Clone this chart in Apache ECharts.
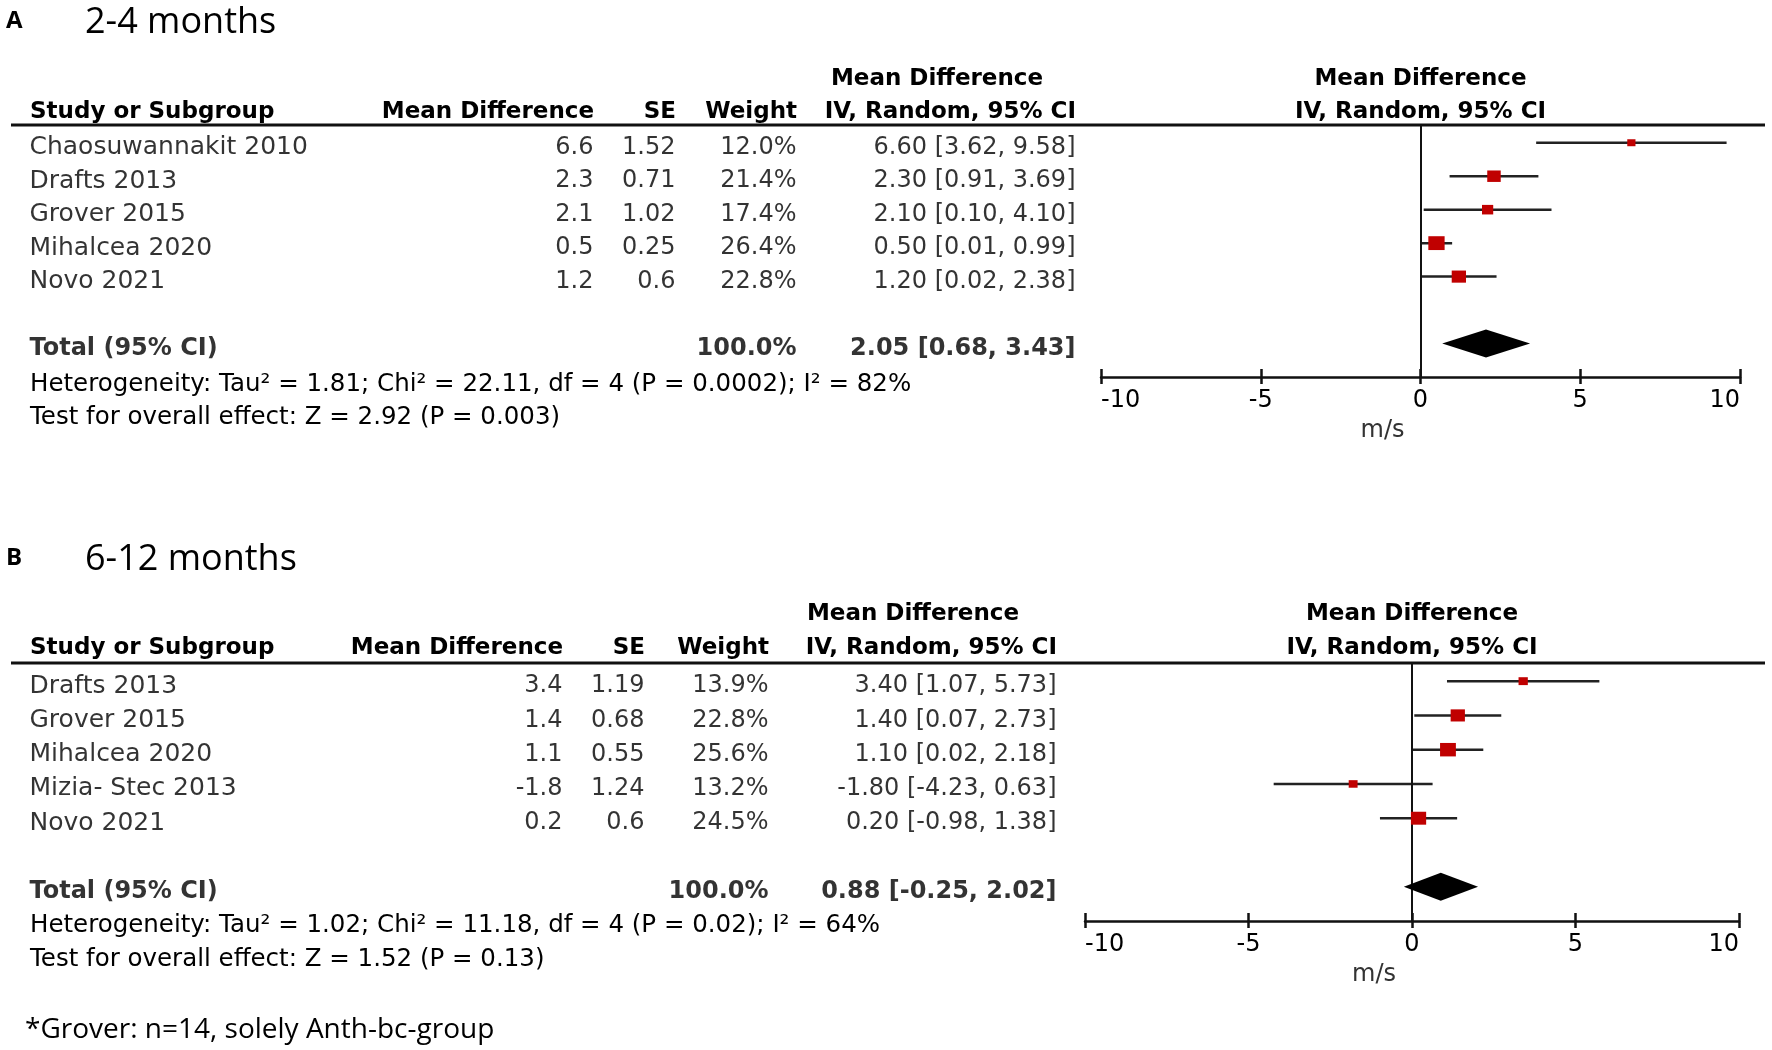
<!DOCTYPE html>
<html>
<head>
  <meta charset="utf-8">
  <title>Forest plot - mean difference</title>
  <script src="https://cdn.jsdelivr.net/npm/echarts@6/dist/echarts.min.js"></script>
</head>
<body style="margin:0;background:#fff">
  <div id="main" style="width:1772px;height:1050px;"></div>
  <script type="text/javascript">
    // A: 2-4 months
    var studiesA = ['Chaosuwannakit 2010', 'Drafts 2013', 'Grover 2015', 'Mihalcea 2020', 'Novo 2021'];
    var mdA = [6.6, 2.3, 2.1, 0.5, 1.2];
    var seA = [1.52, 0.71, 1.02, 0.25, 0.6];
    var weightA = [12.0, 21.4, 17.4, 26.4, 22.8];
    var lowA = [3.62, 0.91, 0.10, 0.01, 0.02];
    var highA = [9.58, 3.69, 4.10, 0.99, 2.38];
    var totalA = [2.05, 0.68, 3.43];   // estimate, low, high
    var hetA = 'Heterogeneity: Tau² = 1.81; Chi² = 22.11, df = 4 (P = 0.0002); I² = 82%';
    var testA = 'Test for overall effect: Z = 2.92 (P = 0.003)';

    // B: 6-12 months
    var studiesB = ['Drafts 2013', 'Grover 2015', 'Mihalcea 2020', 'Mizia- Stec 2013', 'Novo 2021'];
    var mdB = [3.4, 1.4, 1.1, -1.8, 0.2];
    var seB = [1.19, 0.68, 0.55, 1.24, 0.6];
    var weightB = [13.9, 22.8, 25.6, 13.2, 24.5];
    var lowB = [1.07, 0.07, 0.02, -4.23, -0.98];
    var highB = [5.73, 2.73, 2.18, 0.63, 1.38];
    var totalB = [0.88, -0.25, 2.02];
    var hetB = 'Heterogeneity: Tau² = 1.02; Chi² = 11.18, df = 4 (P = 0.02); I² = 64%';
    var testB = 'Test for overall effect: Z = 1.52 (P = 0.13)';

    var xTicks = [-10, -5, 0, 5, 10];
    var footnote = '*Grover: n=14, solely Anth-bc-group';

    var myChart = echarts.init(document.getElementById('main'));

    var FONT = '"DejaVu Sans"';
    var TITLE_FONT = '"Open Sans"';

    // layout of the two panels (pixels)
    var panels = [
      {letter: 'A', title: '2-4 months', studies: studiesA, md: mdA, se: seA, w: weightA, lo: lowA, hi: highA, total: totalA, het: hetA, test: testA,
       titleY: 23, head1: 79, head2: 112, rule: 125, axisY: 377, left: 1101, right: 1740,
       colMD: 594, colSE: 676, colW: 797, colCI: 1076, ciHead1: 937, hetY: 385, testY: 418},
      {letter: 'B', title: '6-12 months', studies: studiesB, md: mdB, se: seB, w: weightB, lo: lowB, hi: highB, total: totalB, het: hetB, test: testB,
       titleY: 560, head1: 614, head2: 648, rule: 663, axisY: 921, left: 1085, right: 1739,
       colMD: 563, colSE: 645, colW: 769, colCI: 1057, ciHead1: 913, hetY: 926, testY: 960}
    ];

    function txt(x, y, s, size, weight, align, family) {
      return {
        type: 'text', silent: true,
        style: {
          text: s, x: x, y: y, fill: '#000',
          fontSize: size, fontWeight: weight || 'normal', fontFamily: family || FONT,
          align: align || 'left', verticalAlign: 'middle'
        }
      };
    }

    var grids = [], xAxes = [], yAxes = [], series = [], graphics = [];

    panels.forEach(function (p, k) {
      var nameW = p.colMD - 30;
      grids.push({left: p.left, right: 1772 - p.right, top: p.rule, bottom: 1050 - p.axisY});

      // main axis (ticks below, labels)
      xAxes.push({
        gridIndex: k, type: 'value', position: 'bottom',
        min: xTicks[0], max: xTicks[xTicks.length - 1], interval: xTicks[1] - xTicks[0],
        axisLine: {onZero: false, lineStyle: {color: '#111', width: 2.5}},
        axisTick: {length: 7, lineStyle: {color: '#111', width: 2.5}},
        axisLabel: {margin: 12, fontSize: 24, fontFamily: FONT, color: '#000',
                    alignMinLabel: 'left', alignMaxLabel: 'right'},
        splitLine: {show: false},
        name: 'm/s', nameLocation: 'middle', nameGap: 42,
        nameTextStyle: {fontSize: 24, fontFamily: FONT, color: '#333', padding: [0, 76, 0, 0]}
      });
      // second axis only for the upper half of the ticks
      xAxes.push({
        gridIndex: k, type: 'value', position: 'bottom',
        min: xTicks[0], max: xTicks[xTicks.length - 1], interval: xTicks[1] - xTicks[0],
        axisLine: {show: false, onZero: false},
        axisTick: {inside: true, length: 8, lineStyle: {color: '#111', width: 2.5}},
        axisLabel: {show: false}, splitLine: {show: false}
      });
      yAxes.push({gridIndex: k, type: 'value', inverse: true, min: -0.53, max: 7, show: false});

      var xi = k * 2, yi = k;
      var totalRow = p.studies.length + 1;

      // confidence interval whiskers + zero line
      series.push({
        type: 'custom', xAxisIndex: xi, yAxisIndex: yi, silent: true, clip: false,
        data: p.lo.map(function (v, i) { return [v, p.hi[i], i]; }),
        encode: {x: [0, 1], y: 2},
        renderItem: function (params, api) {
          var a = api.coord([api.value(0), api.value(2)]);
          var b = api.coord([api.value(1), api.value(2)]);
          return {type: 'line', shape: {x1: a[0], y1: a[1], x2: b[0], y2: b[1]},
                  style: {stroke: '#222', lineWidth: 2.5}};
        },
        markLine: {
          silent: true, symbol: 'none', label: {show: false},
          lineStyle: {color: '#111', width: 2, type: 'solid'},
          data: [{xAxis: 0}]
        }
      });

      // study estimates, box size from weight
      series.push({
        type: 'scatter', xAxisIndex: xi, yAxisIndex: yi, silent: true,
        symbol: 'rect',
        symbolSize: function (val) {
          var s = 1.5 + val[2] * 0.56;
          return [s, s * 0.85];
        },
        itemStyle: {color: '#c00000', opacity: 1},
        data: p.md.map(function (v, i) { return [v, i, p.w[i]]; }),
        z: 5
      });

      // pooled diamond
      series.push({
        type: 'custom', xAxisIndex: xi, yAxisIndex: yi, silent: true,
        data: [[p.total[0], p.total[1], p.total[2], totalRow]],
        encode: {x: [0, 1, 2], y: 3},
        renderItem: function (params, api) {
          var c = api.coord([api.value(0), api.value(3)]);
          var l = api.coord([api.value(1), api.value(3)]);
          var r = api.coord([api.value(2), api.value(3)]);
          var h = 14;
          return {type: 'polygon',
                  shape: {points: [[l[0], c[1]], [c[0], c[1] - h], [r[0], c[1]], [c[0], c[1] + h]]},
                  style: {fill: '#000'}};
        },
        z: 5
      });

      // table text, anchored at the left edge of the axis on each row
      var rows = p.studies.map(function (s, i) {
        return '{n|' + s + '}{m|' + p.md[i] + '}{s|' + p.se[i] + '}{w|' + p.w[i].toFixed(1) + '%}{c|' +
          p.md[i].toFixed(2) + ' [' + p.lo[i].toFixed(2) + ', ' + p.hi[i].toFixed(2) + ']}';
      });
      rows.push('{nb|Total (95% CI)}{m| }{s| }{wb|100.0%}{cb|' + p.total[0].toFixed(2) + ' [' +
        p.total[1].toFixed(2) + ', ' + p.total[2].toFixed(2) + ']}');
      var base = {fontSize: 24, fontFamily: FONT, color: '#000'};
      var nameSt = {fontSize: 25, fontFamily: FONT, color: '#000'};
      var bold = {fontSize: 24, fontFamily: FONT, color: '#000', fontWeight: 'bold'};
      function st(b, wd, al) { return Object.assign({}, b, {width: wd, align: al}); }
      series.push({
        type: 'scatter', xAxisIndex: xi, yAxisIndex: yi, silent: true,
        symbolSize: 1, itemStyle: {color: 'rgba(0,0,0,0)'},
        data: rows.map(function (r, i) { return [xTicks[0], i < p.studies.length ? i : totalRow]; }),
        label: {
          show: true, position: 'left', distance: p.left - p.colCI, offset: [0, 5],
          formatter: function (params) { return rows[params.dataIndex]; },
          rich: {
            n: st(nameSt, nameW * 0.57, 'left'), m: st(base, nameW * 0.43, 'right'),
            nb: st(bold, nameW * 0.57, 'left'),
            s: st(base, p.colSE - p.colMD, 'right'),
            w: st(base, p.colW - p.colSE, 'right'), wb: st(bold, p.colW - p.colSE, 'right'),
            c: st(base, p.colCI - p.colW, 'right'), cb: st(bold, p.colCI - p.colW, 'right')
          }
        }
      });

      // headers, rules and footers
      var mid = (p.left + p.right) / 2;
      graphics.push(txt(6, p.titleY - 2, p.letter, 24, 'bold', 'left', TITLE_FONT));
      graphics.push(txt(85, p.titleY, p.title, 36, 'normal', 'left', TITLE_FONT));
      graphics.push(txt(p.ciHead1, p.head1, 'Mean Difference', 23, 'bold', 'center'));
      graphics.push(txt(mid, p.head1, 'Mean Difference', 23, 'bold', 'center'));
      graphics.push(txt(30, p.head2, 'Study or Subgroup', 23, 'bold', 'left'));
      graphics.push(txt(p.colMD, p.head2, 'Mean Difference', 23, 'bold', 'right'));
      graphics.push(txt(p.colSE, p.head2, 'SE', 23, 'bold', 'right'));
      graphics.push(txt(p.colW, p.head2, 'Weight', 23, 'bold', 'right'));
      graphics.push(txt(p.colCI, p.head2, 'IV, Random, 95% CI', 23, 'bold', 'right'));
      graphics.push(txt(mid, p.head2, 'IV, Random, 95% CI', 23, 'bold', 'center'));
      graphics.push({type: 'line', silent: true, shape: {x1: 11, y1: p.rule, x2: 1765, y2: p.rule},
                     style: {stroke: '#111', lineWidth: 3}});
      graphics.push(txt(30, p.hetY, p.het, 24.5, 'normal', 'left'));
      graphics.push(txt(30, p.testY, p.test, 24.5, 'normal', 'left'));
    });

    graphics.push(txt(25, 1030, footnote, 28, 'normal', 'left', TITLE_FONT));

    var option = {
      animation: false,
      backgroundColor: '#fff',
      grid: grids,
      xAxis: xAxes,
      yAxis: yAxes,
      series: series,
      graphic: graphics
    };

    myChart.setOption(option);
  </script>
</body>
</html>
